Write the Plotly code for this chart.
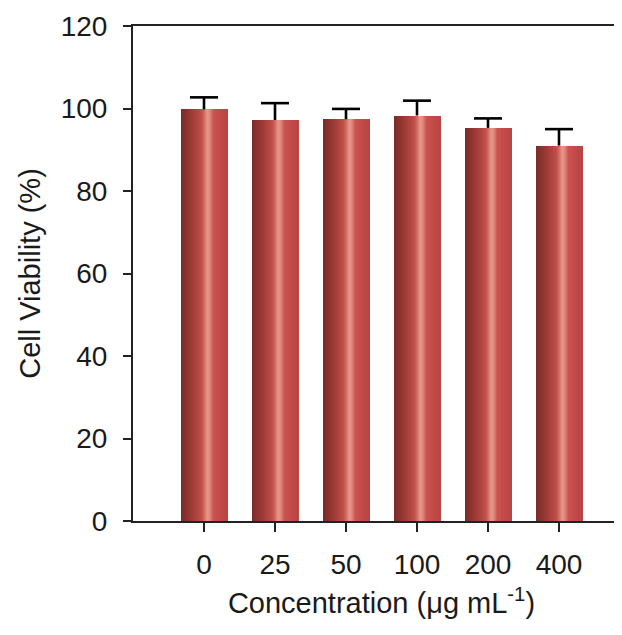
import plotly.graph_objects as go

categories = ["0", "25", "50", "100", "200", "400"]
viability = [99.8, 97.2, 97.4, 98.3, 95.3, 91.0]
errors = [2.9, 4.1, 2.5, 3.6, 2.3, 4.0]
y_ticks = [0, 20, 40, 60, 80, 100, 120]

# cylindrical shading profile for bars (fraction across bar, rgb)
stops = [
    (0.00, (122, 43, 40)),
    (0.12, (140, 51, 47)),
    (0.30, (168, 64, 59)),
    (0.45, (192, 80, 74)),
    (0.52, (217, 118, 107)),
    (0.57, (230, 152, 140)),
    (0.63, (222, 134, 122)),
    (0.70, (201, 84, 80)),
    (0.85, (194, 74, 72)),
    (1.00, (185, 69, 69)),
]


def shade(f):
    for (f0, c0), (f1, c1) in zip(stops[:-1], stops[1:]):
        if f0 <= f <= f1:
            t = (f - f0) / (f1 - f0) if f1 > f0 else 0
            c = [round(a + (b - a) * t) for a, b in zip(c0, c1)]
            return "rgb(%d,%d,%d)" % tuple(c)
    return "rgb(%d,%d,%d)" % stops[-1][1]


xs = list(range(len(categories)))
bar_w = 0.65
n_slices = 46

fig = go.Figure()
for i in range(n_slices):
    start = -bar_w / 2 + bar_w * i / n_slices
    width = bar_w / 2 - start
    fig.add_trace(go.Bar(
        x=xs, y=viability, offset=start, width=width,
        marker=dict(color=shade((i + 0.5) / n_slices), line=dict(width=0)),
        hoverinfo="skip", showlegend=False,
    ))

# error bar stems (upper only)
fig.add_trace(go.Scatter(
    x=xs, y=viability, mode="markers",
    marker=dict(size=1, opacity=0),
    error_y=dict(type="data", array=errors, arrayminus=[0] * len(errors),
                 symmetric=False, color="black", thickness=2.6, width=0),
    hoverinfo="skip", showlegend=False,
))
# error bar caps
fig.add_trace(go.Scatter(
    x=xs, y=[v + e for v, e in zip(viability, errors)], mode="markers",
    marker=dict(symbol="line-ew", size=20, line=dict(color="black", width=2.6)),
    hoverinfo="skip", showlegend=False,
))

font_family = "Liberation Sans, Arial, sans-serif"
fig.update_layout(
    width=622, height=635,
    margin=dict(l=125, r=0, t=18, b=122, autoexpand=False),
    plot_bgcolor="white", paper_bgcolor="white",
    barmode="overlay", bargap=0,
    font=dict(family=font_family, size=28, color="#1a1a1a"),
    xaxis=dict(
        range=[-1.0, 6.0], tickmode="array", tickvals=xs, ticktext=categories,
        showgrid=False, zeroline=False,
        showline=True, linecolor="#222", linewidth=2, mirror=True,
        ticks="outside", ticklen=9, tickwidth=2, tickcolor="#222",
        ticklabelstandoff=8,
        tickfont=dict(size=28),
        automargin=False,
        title=dict(text="Concentration (μg mL<sup>-1</sup>)", font=dict(size=29), standoff=14),
    ),
    yaxis=dict(
        range=[0, 120], tickmode="array", tickvals=y_ticks,
        showgrid=False, zeroline=False,
        showline=True, linecolor="#222", linewidth=2,
        ticks="outside", ticklen=8, tickwidth=2, tickcolor="#222",
        ticklabelstandoff=10,
        tickfont=dict(size=28),
        automargin=False,
        title=dict(text="Cell Viability (%)", font=dict(size=29), standoff=12),
    ),
)

fig.write_html("out.html")
